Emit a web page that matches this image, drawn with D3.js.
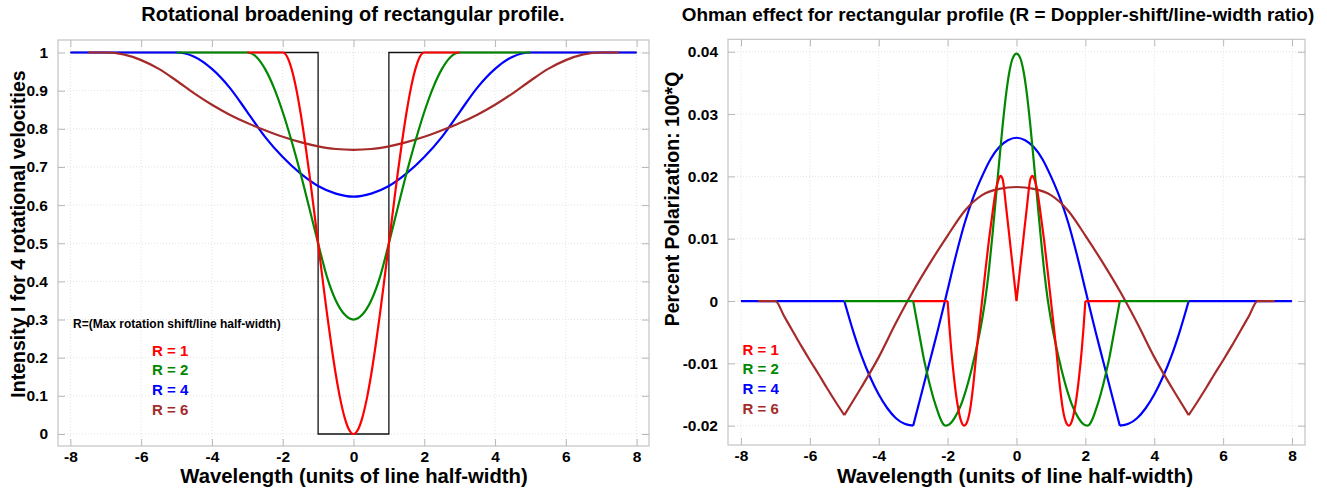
<!DOCTYPE html>
<html><head><meta charset="utf-8">
<script src="https://cdn.jsdelivr.net/npm/d3@7"></script>
<style>
body{margin:0;background:#fff}
svg{display:block}
text{font-family:"Liberation Sans",Arial,Helvetica,sans-serif;font-weight:bold;fill:#000}
</style></head><body>
<svg id="c" width="1327" height="494"></svg>
<script>
// ---------- data ----------
const xTicks = [-8,-6,-4,-2,0,2,4,6,8];
const leftYTicks = [0,0.1,0.2,0.3,0.4,0.5,0.6,0.7,0.8,0.9,1];
const rightYTicks = [-0.02,-0.01,0,0.01,0.02,0.03,0.04];
const seriesNames = ["R = 1","R = 2","R = 4","R = 6"];
const seriesColors = ["#ff0000","#008800","#0000ff","#a52a2a"];

const titleLeft = "Rotational broadening of rectangular profile.";
const titleRight = "Ohman effect for rectangular profile (R = Doppler-shift/line-width ratio)";
const xLabel = "Wavelength (units of line half-width)";
const yLabelLeft = "Intensity I for 4 rotational velocities";
const yLabelRight = "Percent Polarization: 100*Q";
const legendNote = "R=(Max rotation shift/line half-width)";

// rectangular input profile
const rectProfile = [[-8,1],[-1,1],[-1,0],[1,0],[1,1],[8,1]];

// rotationally broadened profiles
const rotR1 = [[-3,1],[-2,1],[-1.875,0.989],[-1.75,0.957],[-1.625,0.908],[-1.5,0.844],[-1.375,0.768],[-1.25,0.684],[-1.125,0.593],[-1,0.5],[-0.875,0.407],[-0.75,0.316],[-0.625,0.232],[-0.5,0.156],[-0.375,0.092],[-0.25,0.043],[-0.125,0.011],[0,0],
  [0.125,0.011],[0.25,0.043],[0.375,0.092],[0.5,0.156],[0.625,0.232],[0.75,0.316],[0.875,0.407],[1,0.5],[1.125,0.593],[1.25,0.684],[1.375,0.768],[1.5,0.844],[1.625,0.908],[1.75,0.957],[1.875,0.989],[2,1],[3,1]];
const rotR2 = [[-5,1],[-3,1],[-2.75,0.989],[-2.5,0.957],[-2.25,0.908],[-2,0.844],[-1.75,0.768],[-1.5,0.684],[-1.25,0.593],[-1,0.5],[-0.75,0.412],[-0.5,0.350],[-0.25,0.313],[0,0.300],
  [0.25,0.313],[0.5,0.350],[0.75,0.412],[1,0.5],[1.25,0.593],[1.5,0.684],[1.75,0.768],[2,0.844],[2.25,0.908],[2.5,0.957],[2.75,0.989],[3,1],[5,1]];
const rotR4 = [[-8,1],[-5,1],[-4.5,0.989],[-4,0.957],[-3.5,0.908],[-3,0.844],[-2.5,0.779],[-2,0.726],[-1.5,0.683],[-1,0.650],[-0.5,0.630],[0,0.622],
  [0.5,0.630],[1,0.650],[1.5,0.683],[2,0.726],[2.5,0.779],[3,0.844],[3.5,0.908],[4,0.957],[4.5,0.989],[5,1],[8,1]];
const rotR6 = [[-7.5,1],[-7,1],[-6.5,0.995],[-6,0.980],[-5.5,0.957],[-5,0.926],[-4.5,0.893],[-4,0.863],[-3.5,0.837],[-3,0.815],[-2.5,0.796],[-2,0.779],[-1.5,0.765],[-1,0.754],[-0.5,0.747],[0,0.745],
  [0.5,0.747],[1,0.754],[1.5,0.765],[2,0.779],[2.5,0.796],[3,0.815],[3.5,0.837],[4,0.863],[4.5,0.893],[5,0.926],[5.5,0.957],[6,0.980],[6.5,0.995],[7,1],[7.5,1]];

// Ohman effect polarization
const ohmR1 = [[-3,0],[-2,0],[-1.95,-0.004],[-1.9,-0.0075],[-1.8,-0.013],[-1.7,-0.017],[-1.6,-0.0194],[-1.52,-0.02],[-1.45,-0.0196],[-1.35,-0.0175],[-1.25,-0.0132],[-1.15,-0.0075],[-1.05,-0.0025],[-1,0],[-0.9,0.005],[-0.8,0.0098],[-0.7,0.014],[-0.6,0.0178],[-0.5,0.0198],[-0.46,0.0201],[-0.4,0.0195],[-0.3,0.015],[-0.2,0.01],[-0.1,0.005],[0,0],
  [0.1,0.005],[0.2,0.01],[0.3,0.015],[0.4,0.0195],[0.46,0.0201],[0.5,0.0198],[0.6,0.0178],[0.7,0.014],[0.8,0.0098],[0.9,0.005],[1,0],[1.05,-0.0025],[1.15,-0.0075],[1.25,-0.0132],[1.35,-0.0175],[1.45,-0.0196],[1.52,-0.02],[1.6,-0.0194],[1.7,-0.017],[1.8,-0.013],[1.9,-0.0075],[1.95,-0.004],[2,0],[3,0]];
const ohmR2 = [[-5,0],[-3,0],[-2.9,-0.003],[-2.8,-0.006],[-2.7,-0.009],[-2.6,-0.0115],[-2.5,-0.0138],[-2.4,-0.0158],[-2.3,-0.0175],[-2.2,-0.019],[-2.1,-0.0199],[-2.05,-0.02],[-1.95,-0.0198],[-1.8,-0.0188],[-1.6,-0.0165],[-1.4,-0.013],[-1.2,-0.0085],[-1,-0.003],[-0.9,0.0005],[-0.8,0.005],[-0.7,0.0105],[-0.6,0.0165],[-0.5,0.0225],[-0.4,0.0283],[-0.3,0.0333],[-0.2,0.037],[-0.1,0.0391],[0,0.0397],
  [0.1,0.0391],[0.2,0.037],[0.3,0.0333],[0.4,0.0283],[0.5,0.0225],[0.6,0.0165],[0.7,0.0105],[0.8,0.005],[0.9,0.0005],[1,-0.003],[1.2,-0.0085],[1.4,-0.013],[1.6,-0.0165],[1.8,-0.0188],[1.95,-0.0198],[2.05,-0.02],[2.1,-0.0199],[2.2,-0.019],[2.3,-0.0175],[2.4,-0.0158],[2.5,-0.0138],[2.6,-0.0115],[2.7,-0.009],[2.8,-0.006],[2.9,-0.003],[3,0],[5,0]];
const ohmR4 = [[-8,0],[-5,0],[-4.75,-0.0047],[-4.5,-0.0088],[-4.25,-0.0122],[-4,-0.015],[-3.75,-0.0172],[-3.5,-0.0188],[-3.25,-0.0197],[-3,-0.02],[-2.85,-0.0168],[-2.7,-0.0136],[-2.5,-0.0093],[-2.3,-0.005],[-2.1,-0.0005],[-2,0.0018],[-1.75,0.0075],[-1.5,0.0126],[-1.25,0.0167],[-1,0.02],[-0.75,0.0228],[-0.5,0.0247],[-0.25,0.0258],[0,0.0262],
  [0.25,0.0258],[0.5,0.0247],[0.75,0.0228],[1,0.02],[1.25,0.0167],[1.5,0.0126],[1.75,0.0075],[2,0.0018],[2.1,-0.0005],[2.3,-0.005],[2.5,-0.0093],[2.7,-0.0136],[2.85,-0.0168],[3,-0.02],[3.25,-0.0197],[3.5,-0.0188],[3.75,-0.0172],[4,-0.015],[4.25,-0.0122],[4.5,-0.0088],[4.75,-0.0047],[5,0],[8,0]];
const ohmR6 = [[-7.5,0],[-7,0],[-6.75,-0.0024],[-6.5,-0.0048],[-6.25,-0.0072],[-6,-0.0095],[-5.75,-0.0117],[-5.5,-0.014],[-5.25,-0.0162],[-5,-0.0183],[-4.5,-0.0138],[-4,-0.009],[-3.5,-0.0035],[-3,0.0016],[-2.5,0.0062],[-2,0.0105],[-1.5,0.0145],[-1,0.017],[-0.5,0.018],[0,0.0183],
  [0.5,0.018],[1,0.017],[1.5,0.0145],[2,0.0105],[2.5,0.0062],[3,0.0016],[3.5,-0.0035],[4,-0.009],[4.5,-0.0138],[5,-0.0183],[5.25,-0.0162],[5.5,-0.014],[5.75,-0.0117],[6,-0.0095],[6.25,-0.0072],[6.5,-0.0048],[6.75,-0.0024],[7,0],[7.5,0]];
// x positions where the polarization curves have corners
const ohmKinks = [[-2,0,2],[-3,3],[-5,-3,3,5],[-5,5]];

// ---------- drawing ----------
const svg = d3.select("#c");
const drawOrder = [2,3,1,0]; // R=4, R=6, R=2, R=1

function splitAt(data, kinks){
  if(!kinks) return [data];
  const pieces=[]; let cur=[];
  data.forEach(p=>{ cur.push(p); if(kinks.includes(p[0])){ if(cur.length>1) pieces.push(cur); cur=[p]; } });
  if(cur.length>1) pieces.push(cur);
  return pieces;
}

function panel(cfg){
  const g = svg.append("g");
  const x = d3.scaleLinear().domain(cfg.xDomain).range([cfg.left, cfg.right]);
  const y = d3.scaleLinear().domain(cfg.yDomain).range([cfg.bottom, cfg.top]);
  // grid
  g.append("g").selectAll("line").data(xTicks).join("line")
    .attr("x1", d=>x(d)).attr("x2", d=>x(d)).attr("y1", cfg.top).attr("y2", cfg.bottom)
    .attr("stroke","#e2e2e2").attr("stroke-dasharray","1,2");
  g.append("g").selectAll("line").data(cfg.yTicks).join("line")
    .attr("y1", d=>y(d)).attr("y2", d=>y(d)).attr("x1", cfg.left).attr("x2", cfg.right)
    .attr("stroke","#e2e2e2").attr("stroke-dasharray","1,2");
  // frame
  g.append("rect").attr("x",cfg.left).attr("y",cfg.top).attr("width",cfg.right-cfg.left).attr("height",cfg.bottom-cfg.top)
    .attr("fill","none").attr("stroke","#c4c4c4").attr("stroke-width",1.2);
  // axes (ticks + labels)
  const tl = 7;
  const bottomAxis = d3.axisBottom(x).tickValues(xTicks).tickFormat(d=>String(d)).tickSize(-tl).tickPadding(5);
  const topAxis = d3.axisTop(x).tickValues(xTicks).tickFormat("").tickSize(-tl);
  const leftAxis = d3.axisLeft(y).tickValues(cfg.yTicks).tickFormat(cfg.yFormat).tickSize(-tl).tickPadding(tl+3);
  const rightAxis = d3.axisRight(y).tickValues(cfg.yTicks).tickFormat("").tickSize(-tl);
  const styleAxis = sel => { sel.select(".domain").remove(); sel.selectAll(".tick line").attr("stroke","#b8b8b8"); sel.selectAll("text").style("font-size", cfg.tickFont+"px").style("font-weight","bold").attr("fill","#000"); };
  g.append("g").attr("transform",`translate(0,${cfg.bottom})`).call(bottomAxis).call(styleAxis);
  g.append("g").attr("transform",`translate(0,${cfg.top})`).call(topAxis).call(styleAxis);
  g.append("g").attr("transform",`translate(${cfg.left},0)`).call(leftAxis).call(styleAxis);
  g.append("g").attr("transform",`translate(${cfg.right},0)`).call(rightAxis).call(styleAxis);

  // curves
  const clip = "clip"+cfg.id;
  svg.append("clipPath").attr("id",clip).append("rect").attr("x",cfg.left).attr("y",cfg.top-2).attr("width",cfg.right-cfg.left).attr("height",cfg.bottom-cfg.top+4);
  const cg = g.append("g").attr("clip-path",`url(#${clip})`);
  if(cfg.extra){
    cg.append("path").datum(cfg.extra).attr("fill","none").attr("stroke","#111").attr("stroke-width",1.3)
      .attr("d", d3.line().x(d=>x(d[0])).y(d=>y(d[1])));
  }
  const line = d3.line().x(d=>x(d[0])).y(d=>y(d[1])).curve(d3.curveMonotoneX);
  drawOrder.forEach(i=>{
    const pieces = splitAt(cfg.series[i], cfg.kinks ? cfg.kinks[i] : null);
    const dStr = pieces.map(p=>line(p)).join("");
    cg.append("path").attr("fill","none").attr("stroke",seriesColors[i])
      .attr("stroke-width",2.2).attr("stroke-linejoin","round").attr("d",dStr);
  });
  // titles and labels
  svg.append("text").attr("x",cfg.titleX).attr("y",21).attr("text-anchor","middle").style("font-size",cfg.titleFont+"px").text(cfg.title);
  svg.append("text").attr("x",cfg.xLabelX).attr("y",483).attr("text-anchor","middle").style("font-size",cfg.xLabelFont+"px").text(xLabel);
  svg.append("text").attr("transform",`translate(${cfg.yLabelX},${cfg.yLabelY}) rotate(-90)`).attr("text-anchor","middle")
    .style("font-size","19.5px").text(cfg.yLabel);
  // legend
  seriesNames.forEach((n,i)=>{
    svg.append("text").attr("x",cfg.legX).attr("y",cfg.legY+i*19.7).style("font-size","15px").style("fill",seriesColors[i]).text(n);
  });
}

panel({id:"L", left:58, right:649, top:40, bottom:446,
  xDomain:[-8.35,8.35], yDomain:[-0.0315,1.0328], yTicks:leftYTicks, yFormat:d=>String(+d.toFixed(1)),
  tickFont:15.5, series:[rotR1,rotR2,rotR4,rotR6], extra:rectProfile, kinks:null,
  title:titleLeft, titleFont:20, titleX:353, xLabelX:354, xLabelFont:20.3, yLabel:yLabelLeft, yLabelX:25, yLabelY:234, legX:152, legY:355.5});
svg.append("text").attr("x",73).attr("y",328).style("font-size","12px").text(legendNote);

panel({id:"R", left:728, right:1305, top:39.3, bottom:445,
  xDomain:[-8.377,8.377], yDomain:[-0.0231,0.042], yTicks:rightYTicks, yFormat:d=>String(+d.toFixed(2)),
  tickFont:15.5, series:[ohmR1,ohmR2,ohmR4,ohmR6], extra:null, kinks:ohmKinks,
  title:titleRight, titleFont:18.9, titleX:998, xLabelX:1015, xLabelFont:20.8, yLabel:yLabelRight, yLabelX:679, yLabelY:199, legX:742.5, legY:354.5});
</script></body></html>
